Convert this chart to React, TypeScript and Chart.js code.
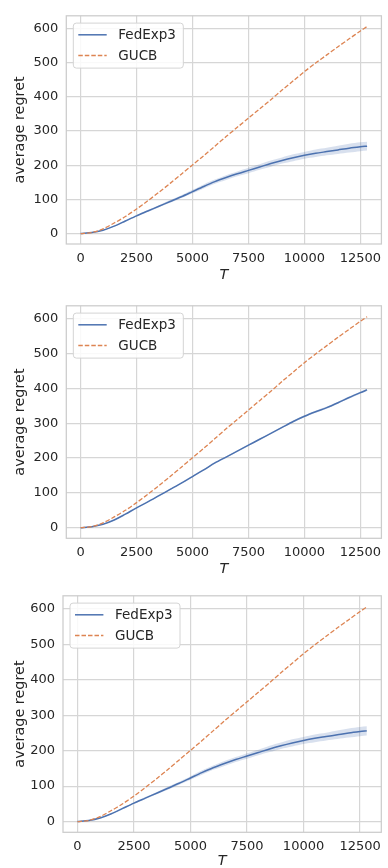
import React, { useEffect, useRef } from "react";
import { Chart, registerables } from "chart.js";

Chart.register(...registerables);

// ---- data ----
const T = [0, 500, 1000, 1500, 2000, 2500, 3000, 3500, 4000, 4500, 5000, 5500, 6000, 6500, 7000, 7500, 8000, 8500, 9000, 9500, 10000, 10500, 11000, 11500, 12000, 12500, 12800];

const seriesNames = ["FedExp3", "GUCB"];

// panel 1 & 3 : FedExp3 mean and confidence band
const fedA = [0, 3, 10, 22, 37, 52, 66, 80, 94, 108, 123, 138, 152, 164, 175, 185, 195, 205, 214, 222, 229, 235, 240, 245, 250, 254, 256];
const fedALow = [0, 3, 9, 21, 35, 50, 63, 77, 90, 104, 118, 132, 146, 157, 168, 177, 187, 196, 205, 212, 219, 224, 229, 233, 237, 241, 243];
const fedAHigh = [0, 3, 11, 23, 39, 54, 69, 83, 98, 112, 128, 144, 158, 171, 182, 193, 203, 214, 223, 232, 239, 246, 251, 257, 263, 267, 269];

// panel 2 : FedExp3 mean and confidence band
const fedB = [0, 3, 10, 22, 39, 57, 74, 92, 110, 128, 147, 166, 186, 203, 220, 237, 254, 271, 288, 305, 320, 333, 345, 359, 374, 388, 396];
const fedBLow = [0, 3, 9, 21, 38, 56, 73, 90, 108, 126, 145, 164, 184, 201, 218, 235, 252, 269, 286, 302, 317, 330, 342, 356, 371, 385, 393];
const fedBHigh = [0, 3, 11, 23, 40, 58, 75, 94, 112, 130, 149, 168, 188, 205, 222, 239, 256, 273, 290, 308, 323, 336, 348, 362, 377, 391, 399];

// GUCB (same in all three panels)
const gucb = [0, 3, 14, 31, 50, 72, 96, 121, 147, 174, 201, 228, 256, 284, 311, 338, 365, 392, 420, 447, 474, 499, 523, 547, 570, 593, 606];

const xTicks = [0, 2500, 5000, 7500, 10000, 12500];
const yTicks = [0, 100, 200, 300, 400, 500, 600];

// ---- styling ----
const BLUE = "#4c72b0";
const ORANGE = "#dd8452";
const TEXT = "#262626";
const GRID = "#d6d6d6";
const FONT = "'DejaVu Sans', sans-serif";

type PanelCfg = {
  top: number;
  height: number;
  left: number;
  right: number;
  plotTop: number;
  plotBottom: number;
  tCenter: number;
  fed: number[];
  low: number[];
  high: number[];
};

const pts = (ys: number[]) => T.map((x, i) => ({ x, y: ys[i] }));

const framePlugin = {
  id: "frame",
  beforeDatasetsDraw(chart: any) {
    const { ctx, chartArea: a } = chart;
    ctx.save();
    ctx.strokeStyle = "#cccccc";
    ctx.lineWidth = 1.25;
    ctx.strokeRect(a.left, a.top, a.right - a.left, a.bottom - a.top);
    ctx.restore();
  },
};

const legendBoxPlugin = {
  id: "legendBox",
  afterDraw(chart: any) {
    const { ctx, chartArea: a } = chart;
    const bx = a.left + 7;
    const by = a.top + 7.3;
    const bw = 110;
    const bh = 45;
    ctx.save();
    ctx.beginPath();
    ctx.roundRect(bx, by, bw, bh, 3);
    ctx.fillStyle = "rgba(255,255,255,0.85)";
    ctx.fill();
    ctx.strokeStyle = "#d4d4d4";
    ctx.lineWidth = 1;
    ctx.stroke();
    const rows = [
      { y: by + 11.7, color: BLUE, dash: [] as number[], label: seriesNames[0] },
      { y: by + 32.4, color: ORANGE, dash: [4.5, 2], label: seriesNames[1] },
    ];
    ctx.font = `13.5px ${FONT}`;
    ctx.textBaseline = "middle";
    ctx.textAlign = "left";
    for (const r of rows) {
      ctx.beginPath();
      ctx.setLineDash(r.dash);
      ctx.strokeStyle = r.color;
      ctx.lineWidth = 1.5;
      ctx.moveTo(bx + 5, r.y);
      ctx.lineTo(bx + 33.4, r.y);
      ctx.stroke();
      ctx.setLineDash([]);
      ctx.fillStyle = TEXT;
      ctx.fillText(r.label, bx + 45, r.y + 0.5);
    }
    ctx.restore();
  },
};

function Panel({ cfg }: { cfg: PanelCfg }) {
  const ref = useRef<HTMLCanvasElement | null>(null);
  useEffect(() => {
    if (!ref.current) return;
    const xTitleLH = 14.4 * 1.2;
    const xTitlePad = cfg.height - cfg.tCenter - xTitleLH / 2;
    const chart = new Chart(ref.current, {
      type: "line",
      data: {
        datasets: [
          {
            label: "band-high",
            data: pts(cfg.high),
            borderWidth: 0,
            pointRadius: 0,
            fill: "+1",
            backgroundColor: "rgba(76,114,176,0.22)",
            borderColor: "rgba(0,0,0,0)",
            tension: 0.3,
            order: 3,
          },
          {
            label: "band-low",
            data: pts(cfg.low),
            borderWidth: 0,
            pointRadius: 0,
            fill: false,
            borderColor: "rgba(0,0,0,0)",
            tension: 0.3,
            order: 2,
          },
          {
            label: seriesNames[0],
            data: pts(cfg.fed),
            borderColor: BLUE,
            borderWidth: 1.5,
            pointRadius: 0,
            fill: false,
            tension: 0.3,
            order: 1,
          },
          {
            label: seriesNames[1],
            data: pts(gucb),
            borderColor: ORANGE,
            borderWidth: 1.3,
            borderDash: [4.5, 2],
            pointRadius: 0,
            fill: false,
            tension: 0.3,
            order: 0,
          },
        ],
      },
      options: {
        animation: false,
        responsive: false,
        devicePixelRatio: 1,
        layout: { padding: { top: cfg.plotTop, right: 388 - cfg.right, left: 0, bottom: 0 } },
        plugins: { legend: { display: false }, tooltip: { enabled: false } },
        scales: {
          x: {
            type: "linear",
            min: -640,
            max: 13440,
            afterFit: (s: any) => {
              s.height = cfg.height - cfg.plotBottom;
            },
            afterBuildTicks: (s: any) => {
              s.ticks = xTicks.map((v) => ({ value: v }));
            },
            ticks: {
              includeBounds: false,
              padding: 6.9,
              color: TEXT,
              font: { family: FONT, size: 13 },
              maxRotation: 0,
              callback: (v: any) => String(v),
            },
            grid: { color: GRID, lineWidth: 1.2, drawTicks: false },
            border: { display: false },
            title: {
              display: true,
              text: "T",
              color: TEXT,
              font: { family: FONT, size: 14.4, style: "italic", lineHeight: 1.2 },
              padding: { top: 0, bottom: xTitlePad },
            },
          },
          y: {
            type: "linear",
            min: -30.4,
            max: 637.4,
            afterFit: (s: any) => {
              s.width = cfg.left;
            },
            afterBuildTicks: (s: any) => {
              s.ticks = yTicks.map((v) => ({ value: v }));
            },
            ticks: {
              includeBounds: false,
              padding: 8,
              color: TEXT,
              font: { family: FONT, size: 13 },
              callback: (v: any) => String(v),
            },
            grid: { color: GRID, lineWidth: 1.2, drawTicks: false },
            border: { display: false },
            title: {
              display: true,
              text: "average regret",
              color: TEXT,
              font: { family: FONT, size: 14.4, lineHeight: 1.2 },
              padding: { top: 11.4, bottom: 0 },
            },
          },
        },
      },
      plugins: [framePlugin, legendBoxPlugin],
    } as any);
    return () => chart.destroy();
  }, [cfg]);
  return (
    <canvas
      ref={ref}
      width={388}
      height={cfg.height}
      style={{ position: "absolute", left: 0, top: cfg.top, width: 388, height: cfg.height, display: "block" }}
    />
  );
}

const panels: PanelCfg[] = [
  { top: 0, height: 290, left: 66.3, right: 387.3, plotTop: 6, plotBottom: 244, tCenter: 275.7, fed: fedA, low: fedALow, high: fedAHigh },
  { top: 290, height: 290, left: 66.3, right: 387.3, plotTop: 12.3, plotBottom: 248.3, tCenter: 279.3, fed: fedB, low: fedBLow, high: fedBHigh },
  { top: 580, height: 300, left: 63, right: 382.5, plotTop: 15, plotBottom: 252.3, tCenter: 281.7, fed: fedA, low: fedALow, high: fedAHigh },
];

export default function App() {
  return (
    <div
      style={{
        position: "fixed",
        left: 0,
        top: 0,
        width: 388,
        height: 868,
        overflow: "hidden",
        background: "#ffffff",
      }}
    >
      {panels.map((p, i) => (
        <Panel key={i} cfg={p} />
      ))}
    </div>
  );
}
